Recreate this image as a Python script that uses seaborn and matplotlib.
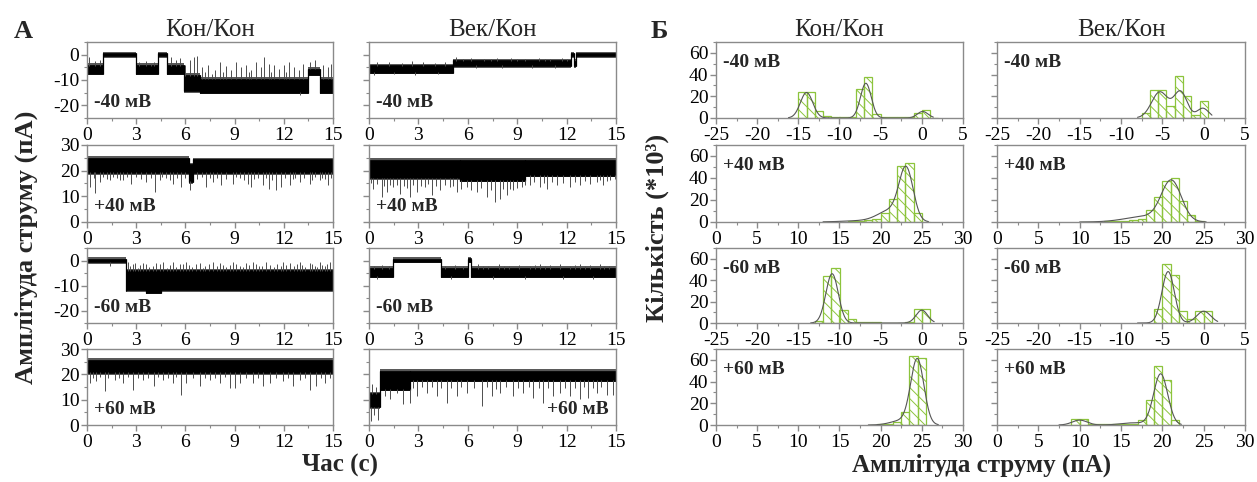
import numpy as np
import pandas as pd
import matplotlib
matplotlib.use("Agg")
import matplotlib.pyplot as plt
from matplotlib.ticker import MultipleLocator
import seaborn as sns

# ---------------------------------------------------------------------------
# Single-channel current records (pA vs s).
# Each record: dwell levels (t_start, t_end, low, high) and brief excursions (t, value)
# ---------------------------------------------------------------------------
kk_m40_levels = [(0.0, 1.0, -7.5, -4.0), (1.0, 3.0, -0.6, 0.6), (3.0, 4.3, -7.5, -4.0),
                 (4.3, 4.9, -0.6, 0.6), (4.9, 5.9, -7.5, -4.0), (5.9, 6.9, -14.5, -8.0),
                 (6.9, 13.5, -15.0, -9.5), (13.5, 14.2, -8.0, -5.5), (14.2, 15.0, -15.0, -9.5)]
kk_m40_spikes = [(0.15, -1), (0.5, -2.5), (0.8, -2), (3.2, -3), (3.6, -2.5), (3.9, -3.5),
                 (4.1, -2.8), (5.1, -1), (5.4, -2), (5.7, -1.5), (6.0, -4), (6.3, -2),
                 (6.5, -1), (6.7, -0.5), (7.0, -5), (7.2, -7), (7.4, -4), (7.6, -7.5),
                 (7.8, -6), (8.1, -3), (8.3, -7), (8.5, -4.5), (8.8, -6), (9.1, -3),
                 (9.4, -5), (9.7, -4), (9.85, -7), (10.0, -6), (10.3, -3), (10.6, -5),
                 (10.8, -1), (11.1, -3.5), (11.25, -7), (11.4, -4), (11.7, -5.5), (12.0, -4),
                 (12.15, -7), (12.3, -3), (12.6, -5), (12.9, -6), (13.0, -16), (13.2, -3.5),
                 (13.6, -3), (13.9, -2), (14.4, -4), (14.7, -5), (14.9, -3.5)]

kk_p40_levels = [(0.0, 6.2, 19.0, 25.0), (6.2, 6.45, 15.5, 22.5), (6.45, 15.0, 19.0, 24.5)]
kk_p40_spikes = [(0.21, 13.6), (0.4, 17.2), (0.51, 11.3), (0.77, 15.6), (1.0, 17.5),
                 (1.2, 16.8), (1.38, 16.2), (1.6, 17.6), (1.8, 17.0), (2.0, 16.5), (2.2, 16.2),
                 (2.45, 17.4), (2.7, 14.9), (3.0, 17.5), (3.3, 16.6), (3.62, 15.6),
                 (3.9, 17.2), (4.13, 11.7), (4.43, 16.2), (4.6, 17.5), (4.8, 17.0),
                 (5.05, 16.4), (5.25, 14.9), (5.5, 17.3), (5.75, 13.6), (6.0, 17.0),
                 (6.3, 12.3), (6.7, 16.6), (7.0, 17.5), (7.28, 13.6), (7.5, 17.0),
                 (7.68, 15.6), (7.9, 17.3), (8.19, 14.3), (8.5, 16.8), (8.9, 14.9),
                 (9.1, 17.4), (9.3, 17.0), (9.55, 16.3), (9.82, 14.9), (10.02, 13.6),
                 (10.2, 16.9), (10.4, 17.3), (10.73, 14.3), (10.9, 17.0), (11.1, 13.0),
                 (11.3, 16.5), (11.55, 12.3), (11.85, 13.6), (12.1, 17.2), (12.36, 14.3),
                 (12.55, 16.6), (12.7, 17.0), (12.97, 15.6), (13.25, 17.1), (13.58, 14.9),
                 (13.75, 16.4), (13.9, 17.5), (14.19, 16.2), (14.35, 17.3), (14.5, 16.8),
                 (14.7, 14.5), (14.88, 17.0)]

kk_m60_levels = [(0.0, 2.38, -0.7, 0.7), (2.38, 3.6, -12.0, -4.0), (3.6, 4.5, -13.0, -4.0),
                 (4.5, 15.0, -12.0, -4.0)]
kk_m60_spikes = [(1.4, -2.0), (2.5, -0.5), (2.65, -2.0), (2.8, -1.5), (2.95, -1.0), (3.1, -3.0),
                 (3.25, -1.8), (3.41, -0.8), (3.6, -1.2), (3.8, -2.5), (4.05, -2.2), (4.23, -1.0),
                 (4.45, -1.5), (4.64, -0.6), (4.9, -2.8), (5.05, -1.8), (5.25, -0.5),
                 (5.45, -2.6), (5.65, -1.2), (5.85, -1.4), (6.06, -0.5), (6.25, -1.8),
                 (6.4, -2.5), (6.65, -1.3), (6.87, -0.8), (7.05, -2.8), (7.2, -2.0),
                 (7.45, -1.5), (7.68, -0.5), (7.9, -2.2), (8.09, -1.0), (8.3, -1.6),
                 (8.5, -2.5), (8.7, -1.9), (8.9, -0.6), (9.1, -1.2), (9.3, -2.0), (9.5, -2.6),
                 (9.72, -0.8), (9.9, -1.8), (10.12, -0.5), (10.3, -1.4), (10.5, -2.2),
                 (10.7, -2.0), (10.94, -0.7), (11.15, -1.6), (11.4, -2.5), (11.6, -1.2),
                 (11.8, -2.2), (11.95, -0.5), (12.15, -1.8), (12.36, -1.0), (12.6, -2.2),
                 (12.8, -1.4), (12.97, -0.6), (13.1, -1.7), (13.3, -2.4), (13.58, -0.8),
                 (13.75, -1.3), (13.9, -2.0), (14.05, -2.6), (14.19, -0.5), (14.35, -1.6),
                 (14.5, -2.2), (14.65, -1.2), (14.8, -0.6)]

kk_p60_levels = [(0.0, 15.0, 20.5, 25.8)]
kk_p60_spikes = [(0.16, 16.6), (0.35, 18.5), (0.57, 17.3), (0.8, 18.8), (1.08, 13.3),
                 (1.3, 18.4), (1.69, 17.9), (1.95, 18.6), (2.2, 16.6), (2.5, 18.9),
                 (2.81, 14.0), (3.1, 18.5), (3.42, 17.9), (3.75, 18.7), (4.07, 15.3),
                 (4.35, 18.8), (4.64, 17.9), (4.95, 18.4), (5.25, 16.6), (5.45, 18.9),
                 (5.71, 12.0), (6.06, 16.6), (6.45, 18.5), (6.87, 15.3), (7.2, 18.6),
                 (7.48, 17.9), (7.8, 18.4), (8.09, 16.6), (8.4, 18.8), (8.7, 14.7),
                 (9.0, 14.7), (9.31, 16.6), (9.7, 18.5), (10.12, 16.6), (10.45, 18.7),
                 (10.73, 15.3), (11.14, 16.6), (11.5, 18.6), (11.95, 17.3), (12.25, 18.4),
                 (12.56, 15.3), (12.97, 17.9), (13.3, 18.7), (13.58, 14.0), (13.99, 15.3),
                 (14.25, 18.5), (14.5, 16.6), (14.8, 18.6)]

vk_m40_levels = [(0.0, 5.1, -7.2, -4.2), (5.1, 12.25, -4.5, -2.3), (12.25, 12.45, -0.6, 0.6),
                 (12.45, 12.6, -4.5, -2.5), (12.6, 15.0, -0.6, 0.6)]
vk_m40_spikes = [(0.3, -8.0), (0.5, -3.0), (1.2, -2.8), (1.5, -7.8), (2.0, -3.2), (2.6, -2.6),
                 (2.8, -8.0), (3.3, -3.0), (4.0, -3.1), (4.2, -7.8), (4.6, -2.8), (5.3, -1.0),
                 (5.7, -1.9), (6.2, -1.5), (6.5, -5.3), (7.0, -1.8), (7.4, -1.6), (7.8, -1.2),
                 (8.1, -5.2), (8.6, -1.5), (9.0, -1.9), (9.5, -1.8), (9.9, -5.4), (10.3, -1.3),
                 (10.7, -1.7), (11.0, -1.6), (11.3, -5.3), (11.7, -1.4), (12.0, -1.8)]

vk_p40_levels = [(0.0, 5.5, 17.0, 24.2), (5.5, 9.5, 16.0, 24.2), (9.5, 15.0, 18.0, 24.2)]
vk_p40_spikes = [(0.1, 15.0), (0.26, 13.0), (0.5, 14.8), (0.77, 9.8), (0.9, 14.2), (1.07, 11.7),
                 (1.25, 14.6), (1.48, 13.6), (1.7, 14.4), (1.88, 11.0), (2.1, 14.0),
                 (2.3, 13.2), (2.49, 9.8), (2.7, 14.5), (2.9, 11.7), (3.15, 14.1), (3.4, 13.6),
                 (3.6, 14.8), (3.8, 10.4), (4.05, 14.0), (4.31, 12.3), (4.6, 14.6),
                 (4.92, 13.6), (5.1, 14.2), (5.32, 11.7), (5.6, 13.0), (5.93, 13.6),
                 (6.2, 12.6), (6.54, 11.7), (6.8, 13.2), (7.14, 9.8), (7.4, 12.4),
                 (7.65, 7.8), (7.95, 9.1), (8.15, 12.8), (8.36, 10.4), (8.55, 13.0),
                 (8.76, 12.3), (9.0, 13.4), (9.27, 13.6), (9.5, 14.6), (9.78, 14.3),
                 (10.05, 15.4), (10.38, 13.6), (10.6, 15.2), (10.79, 13.0), (11.1, 15.5),
                 (11.4, 14.3), (11.8, 15.2), (12.2, 13.6), (12.5, 15.6), (12.81, 14.3),
                 (13.1, 15.8), (13.42, 14.9), (13.82, 15.6), (14.05, 16.3), (14.23, 14.3),
                 (14.45, 16.0), (14.63, 16.2), (14.94, 16.9)]

vk_m60_levels = [(0.0, 1.48, -6.5, -3.0), (1.48, 4.35, -0.6, 0.6), (4.35, 6.0, -6.5, -3.0),
                 (6.0, 6.2, -0.6, 0.8), (6.2, 15.0, -6.5, -3.0)]
vk_m60_spikes = [(0.3, -2.0), (0.5, -7.2), (0.8, -1.8), (1.2, -2.2), (4.6, -2.0), (5.0, -7.3),
                 (5.2, -1.8), (5.7, -2.3), (6.6, -1.5), (6.9, -2.2), (7.2, -2.0), (7.5, -7.3),
                 (7.9, -1.3), (8.2, -2.1), (8.5, -2.0), (9.1, -1.6), (9.5, -7.2), (9.8, -2.2),
                 (10.1, -1.9), (10.4, -1.4), (10.7, -2.1), (11.0, -1.8), (11.6, -1.5),
                 (11.8, -7.4), (12.2, -2.0), (12.5, -1.7), (12.8, -1.3), (13.1, -2.0),
                 (13.4, -1.8), (13.6, -7.2), (14.0, -1.5), (14.3, -2.2), (14.6, -2.0)]

vk_p60_levels = [(0.0, 0.67, 7.0, 12.5), (0.67, 2.5, 14.0, 21.5), (2.5, 15.0, 17.5, 21.5)]
vk_p60_spikes = [(0.1, 1.5), (0.2, 16.0), (0.3, 4.0), (0.45, 15.0), (0.55, 1.8),
                 (0.97, 11.4), (1.28, 10.1), (1.68, 12.7), (2.08, 8.1), (2.49, 8.8),
                 (2.7, 14.6), (2.9, 11.4), (3.2, 14.9), (3.5, 12.7), (3.8, 15.0), (4.11, 11.4),
                 (4.4, 14.8), (4.72, 8.8), (5.0, 14.5), (5.32, 11.4), (5.6, 15.0),
                 (5.93, 12.7), (6.4, 14.6), (6.84, 7.5), (7.15, 15.0), (7.45, 11.4),
                 (7.7, 14.4), (7.95, 12.7), (8.35, 14.9), (8.76, 11.4), (9.05, 14.7),
                 (9.37, 12.7), (9.7, 15.0), (9.98, 10.7), (10.3, 14.8), (10.59, 8.8),
                 (10.9, 14.6), (11.19, 11.4), (11.6, 12.7), (11.9, 14.8), (12.2, 11.4),
                 (12.5, 14.5), (12.81, 10.1), (13.05, 14.9), (13.32, 10.7), (13.6, 14.7),
                 (13.82, 12.7), (14.1, 15.0), (14.43, 12.0), (14.83, 12.0)]

# ---------------------------------------------------------------------------
# Amplitude histograms: bin edges (pA), counts (x10^3), Gaussian fit components
# ---------------------------------------------------------------------------
kk_m40_edges = [-16, -15, -14, -13, -12, -11, -10, -9, -8, -7, -6, -5, -4, -3, -2, -1, 0, 1, 2]
kk_m40_counts = [0.3, 23.5, 23.5, 6, 1.8, 0.8, 0.6, 0.8, 27, 38, 4, 1, 0.6, 0.6, 0.8, 5, 7.7, 0.3]
kk_m40_fit = dict(mu=[-14.0, -6.8, 0.1], amp=[23.5, 32, 6], sd=[0.75, 0.65, 0.65], span=(-16.2, 1.4))

kk_p40_edges = [13, 14, 15, 16, 17, 18, 19, 20, 21, 22, 23, 24, 25, 26]
kk_p40_counts = [0.2, 0.3, 0.3, 0.5, 0.8, 1.5, 3, 8, 20.7, 51, 53.7, 8.3, 0.3]
kk_p40_fit = dict(mu=[23.1, 21.2, 18.0], amp=[46, 10, 1.2], sd=[0.85, 1.5, 2.5], span=(13.0, 25.8))

kk_m60_edges = [-13, -12, -11, -10, -9, -8, -7, -6, -5, -4, -3, -2, -1, 0, 1]
kk_m60_counts = [2, 44, 51.5, 12.4, 3.4, 1, 0.6, 0.5, 0.4, 0.4, 0.4, 0.5, 12.7, 13]
kk_m60_fit = dict(mu=[-10.9, 0.0], amp=[46, 12], sd=[0.75, 0.7], span=(-13.5, 1.5))

kk_p60_edges = [18.5, 19.5, 20.5, 21.5, 22.5, 23.5, 24.5, 25.5]
kk_p60_counts = [0.3, 0.6, 1.2, 2.4, 12, 63.6, 62]
kk_p60_fit = dict(mu=[24.45, 22.5], amp=[60, 4], sd=[0.8, 1.3], span=(18.5, 27.0))

vk_m40_edges = [-7.5, -6.5, -5.5, -4.5, -3.5, -2.5, -1.5, -0.5, 0.5]
vk_m40_counts = [4.6, 26, 26, 10.8, 39, 20, 3, 15.4]
vk_m40_fit = dict(mu=[-5.3, -2.8, -0.1], amp=[24, 24, 9], sd=[1.0, 0.8, 0.7], span=(-8.0, 1.0))

vk_p40_edges = [10, 11, 12, 13, 14, 15, 16, 17, 18, 19, 20, 21, 22, 23, 24, 25]
vk_p40_counts = [0.2, 0.3, 0.4, 0.6, 0.8, 1.2, 2, 3, 11, 23, 37.5, 40, 19.5, 6, 1]
vk_p40_fit = dict(mu=[21.1, 18.0], amp=[36, 5], sd=[1.2, 2.5], span=(10.0, 25.3))

vk_m60_edges = [-6, -5, -4, -3, -2, -1, 0, 1]
vk_m60_counts = [13, 55, 45, 11, 4, 11, 11]
vk_m60_fit = dict(mu=[-4.3, 0.0], amp=[48, 11], sd=[0.75, 0.85], span=(-8.0, 1.7))

vk_p60_edges = [8, 9, 10, 11, 12, 13, 14, 15, 16, 17, 18, 19, 20, 21, 22]
vk_p60_counts = [0.3, 5.5, 5.5, 1, 0.5, 0.5, 0.5, 0.5, 0.8, 5, 23, 54, 41.5, 4.6]
vk_p60_fit = dict(mu=[19.8, 10.0, 16.5], amp=[47, 4.5, 2], sd=[0.85, 0.9, 1.5], span=(7.5, 22.3))

voltages = ["-40 мВ", "+40 мВ", "-60 мВ", "+60 мВ"]
columns = ["Кон/Кон", "Век/Кон"]

# ---------------------------------------------------------------------------
sns.set_theme(style="ticks")
plt.rcParams["font.family"] = ["Liberation Serif", "DejaVu Serif"]
plt.rcParams["axes.unicode_minus"] = False
plt.rcParams["hatch.linewidth"] = 0.7

W, H = 1257, 482
fig = plt.figure(figsize=(W / 100, H / 100), dpi=100)

SPINE = "#8a8a8a"
GREEN = "#8cc43c"
TICK_FS = 14
LABEL_FS = 14
TITLE_FS = 18


def box(left, top, right, bottom):
    return [left / W, 1 - bottom / H, (right - left) / W, (bottom - top) / H]


def style_axes(ax, show_y):
    for s in ax.spines.values():
        s.set_color(SPINE)
        s.set_linewidth(1.0)
    ax.tick_params(which="both", direction="out", color=SPINE, labelsize=TICK_FS,
                   labelcolor="black")
    ax.tick_params(axis="x", pad=2.5)
    ax.tick_params(axis="y", pad=1.5)
    ax.tick_params(which="major", length=4, width=1.0)
    ax.tick_params(which="minor", length=2.5, width=0.8)
    ax.tick_params(axis="y", labelleft=show_y)
    ax.set_xlabel("")
    ax.set_ylabel("")


def draw_trace(ax, levels, spikes):
    # soft fringe of the noisy dwell bands, then the dense core
    for t0, t1, lo, hi in levels:
        ax.fill_between([t0, t1], [lo - 0.6, lo - 0.6], [hi + 0.6, hi + 0.6],
                        color="#5a5a5a", lw=0)
    for t0, t1, lo, hi in levels:
        ax.fill_between([t0, t1], [lo, lo], [hi, hi], color="black", lw=0.5)
    for a, b in zip(levels[:-1], levels[1:]):
        ax.vlines(a[1], min(a[2], b[2]), max(a[3], b[3]), color="black", lw=0.9)
    for t, v in spikes:
        seg = next(s for s in levels if s[0] <= t <= s[1])
        if v > seg[3]:
            ax.vlines(t, seg[3] - 0.3, v, color="#4d4d4d", lw=0.7)
        else:
            ax.vlines(t, seg[2] + 0.3, v, color="#4d4d4d", lw=0.7)


def draw_hist(ax, edges, counts, fit):
    edges = [float(e) for e in edges]
    table = pd.DataFrame({"amp": [(a + b) / 2 for a, b in zip(edges[:-1], edges[1:])],
                          "n": counts})
    sns.histplot(data=table, x="amp", weights="n", bins=edges, fill=False, color=GREEN,
                 linewidth=0.9, hatch="\\\\\\", ax=ax)
    xs = np.linspace(fit["span"][0], fit["span"][1], 400)
    ys = np.zeros_like(xs)
    for m, a, s in zip(fit["mu"], fit["amp"], fit["sd"]):
        ys += a * np.exp(-0.5 * ((xs - m) / s) ** 2)
    sns.lineplot(x=xs, y=ys, color="#555555", lw=0.8, ax=ax)


rows = [(42, 118), (145, 222), (248, 323), (349, 425)]
a_cols = [(87, 333), (369, 616)]
b_cols = [(716, 963), (997, 1245)]

traces = [[(kk_m40_levels, kk_m40_spikes), (vk_m40_levels, vk_m40_spikes)],
          [(kk_p40_levels, kk_p40_spikes), (vk_p40_levels, vk_p40_spikes)],
          [(kk_m60_levels, kk_m60_spikes), (vk_m60_levels, vk_m60_spikes)],
          [(kk_p60_levels, kk_p60_spikes), (vk_p60_levels, vk_p60_spikes)]]
hists = [[(kk_m40_edges, kk_m40_counts, kk_m40_fit), (vk_m40_edges, vk_m40_counts, vk_m40_fit)],
         [(kk_p40_edges, kk_p40_counts, kk_p40_fit), (vk_p40_edges, vk_p40_counts, vk_p40_fit)],
         [(kk_m60_edges, kk_m60_counts, kk_m60_fit), (vk_m60_edges, vk_m60_counts, vk_m60_fit)],
         [(kk_p60_edges, kk_p60_counts, kk_p60_fit), (vk_p60_edges, vk_p60_counts, vk_p60_fit)]]

for r, (top, bottom) in enumerate(rows):
    negative = voltages[r].startswith("-")
    for c in range(2):
        # --- current record ---
        ax = fig.add_axes(box(a_cols[c][0], top, a_cols[c][1], bottom))
        draw_trace(ax, *traces[r][c])
        ax.set_xlim(0, 15)
        ax.xaxis.set_major_locator(MultipleLocator(3))
        ax.xaxis.set_minor_locator(MultipleLocator(1.5))
        if negative:
            ax.set_ylim(-25, 5)
            ax.set_yticks([-20, -10, 0])
        else:
            ax.set_ylim(0, 30)
            ax.set_yticks([0, 10, 20, 30])
        ax.yaxis.set_minor_locator(MultipleLocator(5))
        style_axes(ax, show_y=(c == 0))
        if r == 3 and c == 1:
            ax.text(0.97, 0.2, voltages[r], transform=ax.transAxes, ha="right", va="center",
                    fontsize=LABEL_FS, fontweight="bold")
        else:
            ax.text(0.03, 0.2, voltages[r], transform=ax.transAxes, ha="left", va="center",
                    fontsize=LABEL_FS, fontweight="bold")

        # --- amplitude histogram ---
        bx = fig.add_axes(box(b_cols[c][0], top, b_cols[c][1], bottom))
        draw_hist(bx, *hists[r][c])
        if negative:
            bx.set_xlim(-25, 5)
        else:
            bx.set_xlim(0, 30)
        bx.xaxis.set_major_locator(MultipleLocator(5))
        bx.xaxis.set_minor_locator(MultipleLocator(2.5))
        bx.set_ylim(0, 70)
        bx.set_yticks([0, 20, 40, 60])
        bx.yaxis.set_minor_locator(MultipleLocator(10))
        style_axes(bx, show_y=(c == 0))
        bx.text(0.03, 0.73, voltages[r], transform=bx.transAxes, ha="left", va="center",
                fontsize=LABEL_FS, fontweight="bold")

# column titles
for (l, rr), name in zip(a_cols, columns):
    fig.text((l + rr) / 2 / W, 1 - 30 / H, name, ha="center", va="center", fontsize=TITLE_FS)
for (l, rr), name in zip(b_cols, columns):
    fig.text((l + rr) / 2 / W, 1 - 30 / H, name, ha="center", va="center", fontsize=TITLE_FS)

# panel letters
fig.text(23 / W, 1 - 32 / H, "А", ha="center", va="center", fontsize=19, fontweight="bold")
fig.text(659 / W, 1 - 32 / H, "Б", ha="center", va="center", fontsize=19, fontweight="bold")

# axis titles
fig.text(26 / W, 1 - 247 / H, "Амплітуда струму (пА)", rotation=90, ha="center", va="center",
         fontsize=19, fontweight="bold")
fig.text(657 / W, 1 - 228 / H, "Кількість (*10³)", rotation=90, ha="center", va="center",
         fontsize=19, fontweight="bold")
fig.text(340 / W, 1 - 465 / H, "Час (с)", ha="center", va="center", fontsize=18, fontweight="bold")
fig.text(982 / W, 1 - 465 / H, "Амплітуда струму (пА)", ha="center", va="center", fontsize=18,
         fontweight="bold")

fig.savefig("out.png", dpi=100)
